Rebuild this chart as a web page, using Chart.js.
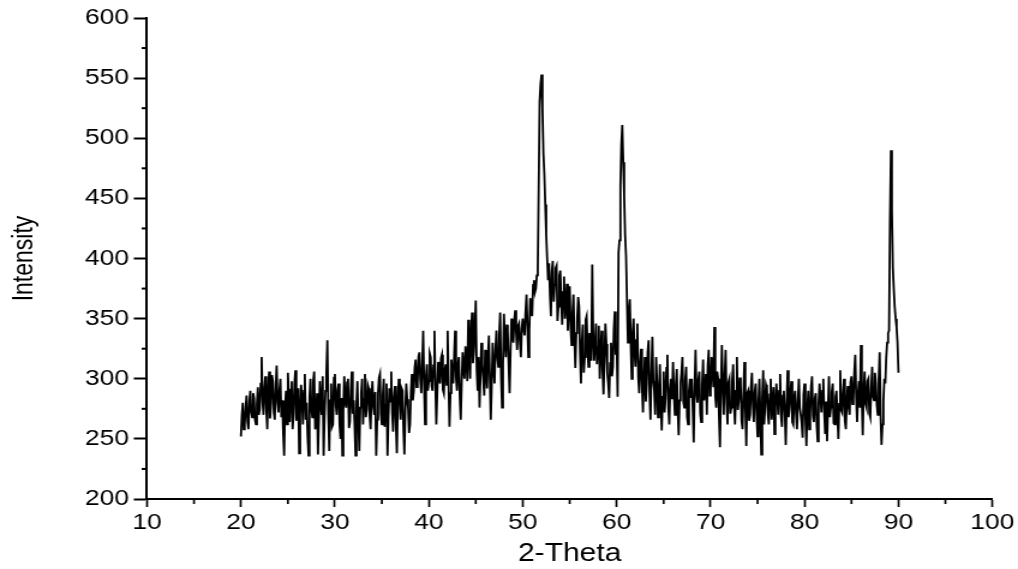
<!DOCTYPE html>
<html>
<head>
<meta charset="utf-8">
<script src="https://cdn.jsdelivr.net/npm/chart.js@4.4.1/dist/chart.umd.min.js"></script>
<style>
html,body{margin:0;padding:0;background:#fff;overflow:hidden}
</style>
</head>
<body>
<canvas id="c" width="848" height="569" style="display:block;width:1018px;height:569px"></canvas>
<script>
// ---- data ----
const thetaStart = 20;      // first 2-theta sample
const thetaStep = 0.1;      // sampling step of the pattern
const intensity = [
  252, 270, 280, 258, 262, 276, 286, 264, 258, 281, 290, 272, 268, 288, 284, 266, 262, 279, 293, 270,
  275, 296, 318, 281, 270, 292, 302, 274, 258, 288, 306, 267, 279, 303, 298, 272, 266, 294, 311, 280,
  272, 290, 300, 268, 282, 255, 236, 278, 290, 262, 305, 284, 264, 291, 298, 258, 270, 296, 307, 265,
  276, 292, 238, 270, 295, 283, 262, 290, 304, 266, 280, 252, 236, 284, 300, 275, 268, 298, 306, 258,
  262, 288, 237, 266, 298, 279, 270, 302, 236, 268, 290, 305, 332, 271, 240, 282, 296, 260, 262, 301,
  304, 278, 270, 291, 296, 262, 250, 284, 236, 274, 302, 281, 276, 297, 300, 259, 264, 290, 306, 271,
  282, 262, 236, 279, 298, 265, 240, 276, 288, 300, 262, 283, 304, 268, 274, 295, 292, 270, 258, 285,
  298, 277, 270, 289, 236, 266, 288, 301, 304, 271, 262, 286, 300, 260, 278, 296, 236, 268, 292, 281,
  306, 272, 256, 285, 294, 262, 238, 279, 300, 284, 266, 292, 290, 258, 237, 274, 296, 283, 276, 255,
  262, 289, 304, 282, 290, 309, 316, 293, 296, 318, 322, 299, 288, 312, 340, 295, 262, 301, 312, 290,
  298, 321, 318, 294, 290, 311, 340, 297, 262, 289, 314, 302, 296, 317, 320, 291, 288, 307, 312, 295,
  340, 298, 260, 288, 316, 305, 296, 319, 340, 301, 290, 311, 318, 284, 266, 296, 322, 308, 300, 327,
  316, 298, 349, 318, 300, 336, 355, 313, 322, 340, 365, 308, 290, 318, 276, 302, 330, 312, 300, 286,
  324, 305, 292, 318, 336, 300, 266, 295, 330, 309, 296, 325, 340, 318, 310, 337, 355, 301, 276, 312,
  354, 332, 318, 345, 340, 312, 288, 322, 350, 336, 330, 349, 357, 338, 324, 344, 346, 330, 318, 342,
  350, 341, 336, 356, 370, 344, 318, 340, 367, 358, 352, 378, 382, 372, 375, 386, 390, 460, 530, 545,
  553, 525, 488, 470, 445, 420, 400, 382, 396, 370, 352, 389, 398, 364, 378, 392, 394, 348, 360, 386,
  390, 366, 345, 372, 385, 350, 362, 379, 340, 358, 377, 342, 328, 355, 370, 334, 309, 338, 350, 368,
  360, 322, 296, 331, 345, 305, 318, 349, 352, 326, 310, 338, 330, 315, 395, 336, 315, 328, 346, 312,
  326, 344, 300, 322, 340, 306, 287, 318, 346, 329, 305, 296, 284, 313, 330, 302, 310, 341, 356, 320,
  330, 285, 405, 415, 460, 495, 511, 480, 452, 420, 402, 365, 330, 355, 366, 330, 300, 338, 350, 322,
  310, 332, 346, 301, 288, 314, 325, 293, 272, 300, 318, 281, 296, 322, 332, 289, 266, 304, 335, 298,
  290, 270, 318, 296, 268, 288, 312, 279, 257, 285, 306, 272, 284, 309, 320, 277, 262, 292, 300, 283,
  314, 286, 270, 295, 308, 275, 253, 282, 296, 305, 318, 281, 276, 299, 310, 268, 262, 290, 300, 284,
  300, 275, 247, 292, 324, 288, 280, 299, 306, 271, 264, 295, 316, 282, 288, 304, 270, 311, 324, 286,
  290, 318, 310, 293, 343, 285, 276, 306, 300, 268, 243, 290, 328, 296, 270, 302, 324, 281, 262, 297,
  300, 271, 276, 298, 312, 280, 262, 290, 318, 274, 282, 301, 296, 265, 258, 287, 314, 276, 244, 288,
  290, 265, 270, 293, 305, 278, 264, 289, 296, 270, 252, 281, 300, 268, 237, 284, 307, 262, 276, 295,
  292, 271, 262, 287, 300, 266, 280, 293, 254, 277, 296, 283, 270, 290, 304, 269, 260, 286, 290, 272,
  245, 279, 307, 268, 276, 289, 298, 264, 262, 285, 290, 271, 258, 282, 300, 276, 270, 263, 251, 287,
  296, 266, 244, 275, 290, 258, 270, 293, 302, 269, 264, 284, 288, 262, 248, 279, 296, 283, 272, 290,
  300, 272, 254, 281, 248, 276, 302, 268, 276, 289, 296, 263, 262, 285, 290, 270, 250, 279, 307, 274,
  272, 289, 300, 265, 258, 281, 294, 276, 270, 297, 302, 279, 282, 305, 320, 285, 264, 288, 298, 276,
  328, 284, 253, 290, 306, 279, 276, 298, 300, 271, 268, 292, 310, 285, 282, 305, 296, 278, 270, 300,
  322, 270, 245, 262, 282, 300, 296, 318, 330, 338, 340, 430, 490, 440, 393, 375, 360, 350, 343, 330,
  305
];
const xMajorTicks = [10, 20, 30, 40, 50, 60, 70, 80, 90, 100];
const xMinorTicks = [15, 25, 35, 45, 55, 65, 75, 85, 95];
const yMajorTicks = [200, 250, 300, 350, 400, 450, 500, 550, 600];
const yMinorTicks = [225, 275, 325, 375, 425, 475, 525, 575];
const xTitle = '2-Theta';
const yTitle = 'Intensity';

const twoTheta = intensity.map((_, i) => +(thetaStart + i * thetaStep).toFixed(2));
const points = intensity.map((v, i) => ({ x: twoTheta[i], y: v }));

// ---- layout (the original figure is horizontally stretched) ----
const SX = 1018 / 848;
const FONT = "'Liberation Sans', Arial, Helvetica, sans-serif";

const minorTicks = {
  id: 'minorTicks',
  afterDraw(chart) {
    const ctx = chart.ctx;
    const xs = chart.scales.x, ys = chart.scales.y;
    ctx.save();
    ctx.strokeStyle = '#000';
    ctx.lineWidth = 1.7;
    xMinorTicks.forEach(v => {
      const px = xs.getPixelForValue(v);
      ctx.beginPath();
      ctx.moveTo(px, xs.top);
      ctx.lineTo(px, xs.top + 5);
      ctx.stroke();
    });
    ctx.lineWidth = 2;
    yMinorTicks.forEach(v => {
      const py = ys.getPixelForValue(v);
      ctx.beginPath();
      ctx.moveTo(ys.right, py);
      ctx.lineTo(ys.right - 4.5, py);
      ctx.stroke();
    });
    ctx.restore();
  }
};

new Chart(document.getElementById('c'), {
  type: 'line',
  data: {
    datasets: [{
      data: points,
      borderColor: '#000',
      borderWidth: 1.8,
      pointRadius: 0,
      tension: 0,
      fill: false
    }]
  },
  options: {
    responsive: false,
    animation: false,
    devicePixelRatio: 1,
    layout: { padding: { left: 0, right: 848 - 995 / SX, top: 18, bottom: 0 } },
    plugins: { legend: { display: false }, tooltip: { enabled: false } },
    scales: {
      x: {
        type: 'linear',
        min: 10, max: 100,
        afterBuildTicks: s => { s.ticks = xMajorTicks.map(v => ({ value: v })); },
        afterFit: s => { s.height = 70; },
        ticks: { autoSkip: false, maxRotation: 0, color: '#000', padding: 3,
                 font: { family: FONT, size: 22 } },
        grid: { drawOnChartArea: false, drawTicks: true, tickLength: 8, tickWidth: 1.7, tickColor: '#000' },
        border: { display: true, color: '#000', width: 2 },
        title: { display: true, text: xTitle, color: '#000',
                 font: { family: FONT, size: 25 }, padding: { top: 0, bottom: 0 } }
      },
      y: {
        type: 'linear',
        min: 200, max: 600,
        afterBuildTicks: s => { s.ticks = yMajorTicks.map(v => ({ value: v })); },
        afterFit: s => { s.width = 147 / SX; },
        ticks: { autoSkip: false, color: '#000', padding: 4,
                 font: { family: FONT, size: 22 } },
        grid: { drawOnChartArea: false, drawTicks: true, tickLength: 11, tickWidth: 2, tickColor: '#000' },
        border: { display: true, color: '#000', width: 2 },
        title: { display: true, text: yTitle, color: '#000',
                 font: { family: FONT, size: 23 }, padding: { top: 7, bottom: 0 } }
      }
    }
  },
  plugins: [minorTicks]
});
</script>
</body>
</html>
